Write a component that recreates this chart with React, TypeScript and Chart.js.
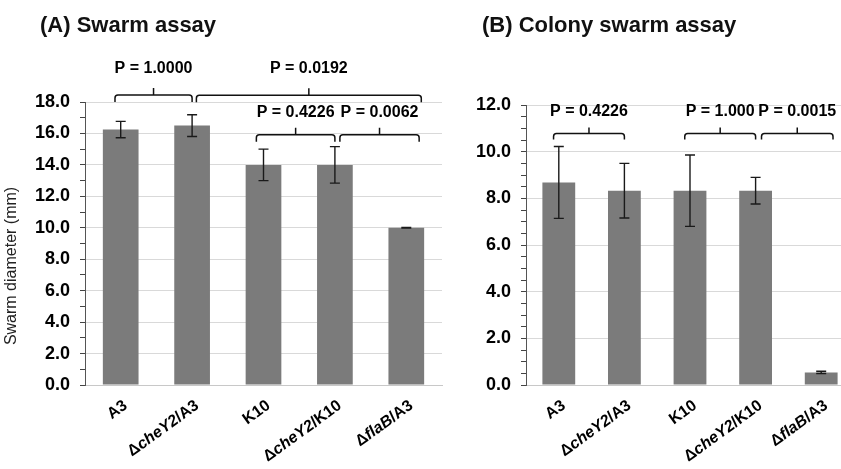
import React, { useEffect, useRef } from 'react';
import { Chart, registerables } from 'chart.js';

Chart.register(...registerables);

const categories = ['A3', 'ΔcheY2/A3', 'K10', 'ΔcheY2/K10', 'ΔflaB/A3'];

const swarmValues = [16.25, 16.5, 14.0, 14.0, 10.0];
const swarmErrors = [0.52, 0.69, 1.0, 1.16, 0.02];
const swarmMax = 18;
const swarmStep = 1;

const colonyValues = [8.68, 8.33, 8.33, 8.33, 0.54];
const colonyErrors = [1.54, 1.17, 1.53, 0.57, 0.05];
const colonyMax = 12;
const colonyStep = 0.5;

const swarmBrackets = [
  { from: -0.08, to: 1.0, y: 18.45, labelY: 20.13, label: 'P = 1.0000' },
  { from: 1.06, to: 4.21, y: 18.43, labelY: 20.13, label: 'P = 0.0192' },
  { from: 1.9, to: 3.0, y: 15.92, labelY: 17.32, label: 'P = 0.4226' },
  { from: 3.07, to: 4.18, y: 15.92, labelY: 17.32, label: 'P = 0.0062' },
];

const colonyBrackets = [
  { from: -0.08, to: 1.0, y: 10.78, labelY: 11.7, label: 'P = 0.4226' },
  { from: 1.92, to: 3.0, y: 10.78, labelY: 11.7, label: 'P = 1.000' },
  { from: 3.09, to: 4.18, y: 10.78, labelY: 11.7, label: 'P = 0.0015' },
];

const FAMILY = '"Liberation Sans", Arial, Helvetica, sans-serif';
const BAR_COLOR = '#7b7b7b';

type Bracket = { from: number; to: number; y: number; labelY: number; label: string };

function splitLabel(label: string) {
  const m = label.match(/^(Δ)([^/]+)(\/.*)$/);
  if (!m) return [{ text: label, italic: false }];
  return [
    { text: m[1], italic: false },
    { text: m[2], italic: true },
    { text: m[3], italic: false },
  ];
}

function makeOverlay(opts: {
  errors: number[];
  brackets: Bracket[];
  title: string;
  titleX: number;
  yTitle?: string;
  dropPx: number;
}) {
  return {
    id: 'overlay',
    afterDraw(chart: any) {
      const ctx: CanvasRenderingContext2D = chart.ctx;
      const xs = chart.scales.x;
      const ys = chart.scales.y;
      const meta = chart.getDatasetMeta(0);
      const values = chart.data.datasets[0].data as number[];

      ctx.save();
      // error bars
      ctx.strokeStyle = '#1a1a1a';
      ctx.lineWidth = 1.4;
      values.forEach((v, i) => {
        const x = meta.data[i].x;
        const e = opts.errors[i];
        const yTop = ys.getPixelForValue(v + e);
        const yBot = ys.getPixelForValue(v - e);
        ctx.beginPath();
        ctx.moveTo(x, yTop);
        ctx.lineTo(x, yBot);
        ctx.moveTo(x - 5, yTop);
        ctx.lineTo(x + 5, yTop);
        ctx.moveTo(x - 5, yBot);
        ctx.lineTo(x + 5, yBot);
        ctx.stroke();
      });

      // brackets
      ctx.strokeStyle = '#111';
      ctx.lineWidth = 1.5;
      ctx.fillStyle = '#000';
      ctx.font = `bold 16px ${FAMILY}`;
      ctx.textAlign = 'center';
      ctx.textBaseline = 'middle';
      opts.brackets.forEach((b) => {
        const x1 = xs.getPixelForValue(b.from);
        const x2 = xs.getPixelForValue(b.to);
        const y = ys.getPixelForValue(b.y);
        const xm = (x1 + x2) / 2;
        const d = opts.dropPx;
        ctx.beginPath();
        ctx.moveTo(x1, y + d);
        ctx.arcTo(x1, y, x1 + 3, y, 3);
        ctx.arcTo(x2, y, x2, y + 3, 3);
        ctx.lineTo(x2, y + d);
        ctx.moveTo(xm, y);
        ctx.lineTo(xm, y - d);
        ctx.stroke();
        ctx.fillText(b.label, xm, ys.getPixelForValue(b.labelY));
      });

      // category labels (rotated, mixed italic)
      const angle = (36 * Math.PI) / 180;
      ctx.textAlign = 'left';
      ctx.textBaseline = 'middle';
      chart.data.labels.forEach((lab: string, i: number) => {
        const x = xs.getPixelForValue(i) + 5;
        const y = chart.chartArea.bottom + 19;
        const segs = splitLabel(lab);
        let total = 0;
        const widths = segs.map((s) => {
          ctx.font = `${s.italic ? 'italic ' : ''}bold 16px ${FAMILY}`;
          const w = ctx.measureText(s.text).width;
          total += w;
          return w;
        });
        ctx.save();
        ctx.translate(x, y);
        ctx.rotate(-angle);
        let cx = -total;
        segs.forEach((s, k) => {
          ctx.font = `${s.italic ? 'italic ' : ''}bold 16px ${FAMILY}`;
          ctx.fillText(s.text, cx, 0);
          cx += widths[k];
        });
        ctx.restore();
      });

      // panel title
      ctx.font = `bold 22px ${FAMILY}`;
      ctx.textAlign = 'left';
      ctx.textBaseline = 'alphabetic';
      ctx.fillStyle = '#111';
      ctx.fillText(opts.title, opts.titleX, 32);

      // y axis title
      if (opts.yTitle) {
        ctx.save();
        ctx.translate(12, 266);
        ctx.rotate(-Math.PI / 2);
        ctx.font = `16px ${FAMILY}`;
        ctx.textAlign = 'center';
        ctx.textBaseline = 'middle';
        ctx.fillStyle = '#222';
        ctx.fillText(opts.yTitle, 0, 0);
        ctx.restore();
      }
      ctx.restore();
    },
  };
}

function makeConfig(p: {
  values: number[];
  max: number;
  step: number;
  axisWidth: number;
  padTop: number;
  padRight: number;
  overlay: any;
}) {
  return {
    type: 'bar' as const,
    data: {
      labels: categories,
      datasets: [
        {
          data: p.values,
          backgroundColor: BAR_COLOR,
          borderWidth: 0,
          barPercentage: 0.5,
          categoryPercentage: 1.0,
        },
      ],
    },
    options: {
      responsive: false,
      animation: false as const,
      layout: { padding: { top: p.padTop, right: p.padRight, bottom: 84, left: 0 } },
      plugins: { legend: { display: false }, tooltip: { enabled: false }, title: { display: false } },
      scales: {
        x: {
          grid: { display: false },
          border: { display: true, color: '#c8c8c8', width: 1 },
          ticks: { display: false },
          afterFit: (s: any) => {
            s.height = 0;
          },
        },
        y: {
          min: 0,
          max: p.max,
          border: { display: true, color: '#555', width: 1 },
          grid: {
            color: (c: any) =>
              c.tick && Math.abs(c.tick.value % 2) < 1e-9 ? '#d9d9d9' : 'rgba(0,0,0,0)',
            tickColor: '#444',
            tickLength: 5,
            lineWidth: 1,
          },
          ticks: {
            stepSize: p.step,
            autoSkip: false,
            padding: 10,
            color: '#000',
            font: { family: FAMILY, size: 18, weight: 'bold' as const },
            callback: (v: any) => (Math.abs(Number(v) % 2) < 1e-9 ? Number(v).toFixed(1) : ''),
          },
          afterFit: (s: any) => {
            s.width = p.axisWidth;
          },
        },
      },
    },
    plugins: [p.overlay],
  };
}

export default function App() {
  const leftRef = useRef<HTMLCanvasElement>(null);
  const rightRef = useRef<HTMLCanvasElement>(null);

  useEffect(() => {
    const left = new Chart(
      leftRef.current as HTMLCanvasElement,
      makeConfig({
        values: swarmValues,
        max: swarmMax,
        step: swarmStep,
        axisWidth: 85,
        padTop: 102,
        padRight: 8,
        overlay: makeOverlay({
          errors: swarmErrors,
          brackets: swarmBrackets,
          title: '(A) Swarm assay',
          titleX: 40,
          yTitle: 'Swarm diameter (mm)',
          dropPx: 7,
        }),
      }) as any
    );
    const right = new Chart(
      rightRef.current as HTMLCanvasElement,
      makeConfig({
        values: colonyValues,
        max: colonyMax,
        step: colonyStep,
        axisWidth: 76,
        padTop: 105,
        padRight: 6,
        overlay: makeOverlay({
          errors: colonyErrors,
          brackets: colonyBrackets,
          title: '(B) Colony swarm assay',
          titleX: 32,
          dropPx: 6,
        }),
      }) as any
    );
    return () => {
      left.destroy();
      right.destroy();
    };
  }, []);

  return (
    <div
      style={{
        position: 'fixed',
        left: 0,
        top: 0,
        width: 841,
        height: 469,
        overflow: 'hidden',
        background: '#fff',
      }}
    >
      <canvas
        ref={leftRef}
        width={450}
        height={469}
        style={{ position: 'absolute', left: 0, top: 0, width: 450, height: 469 }}
      />
      <canvas
        ref={rightRef}
        width={410}
        height={469}
        style={{ position: 'absolute', left: 450, top: 0, width: 410, height: 469 }}
      />
    </div>
  );
}
